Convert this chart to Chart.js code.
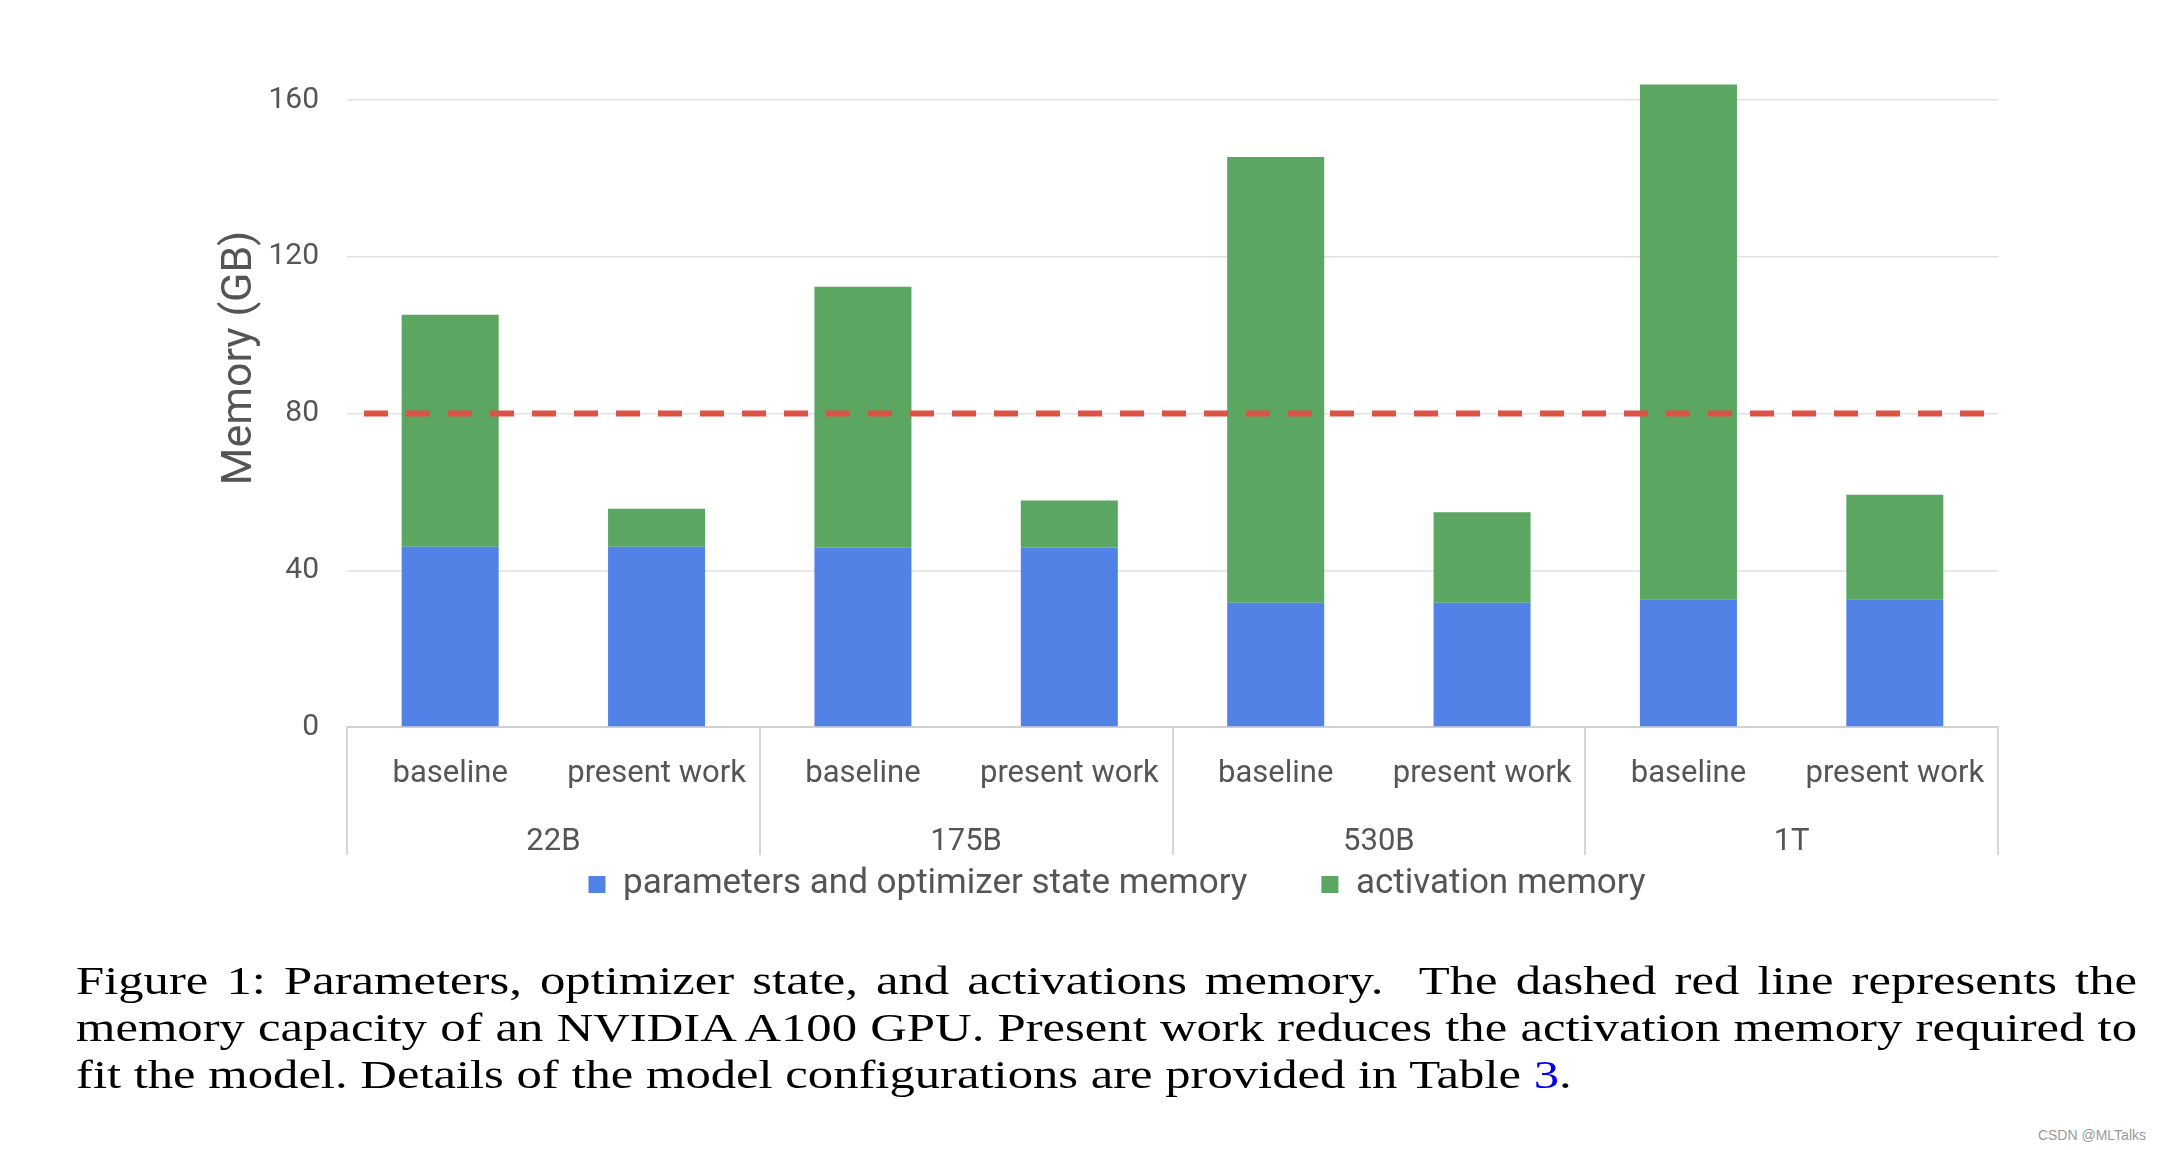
<!DOCTYPE html>
<html>
<head>
<meta charset="utf-8">
<script src="https://cdn.jsdelivr.net/npm/chart.js@4.4.1/dist/chart.umd.min.js"></script>
<style>
  html, body { margin: 0; padding: 0; background: #fff; }
  #wrap { position: relative; width: 2158px; height: 1150px; overflow: hidden; background: #fff; }
  #chartBox { position: absolute; left: 0; top: 0; width: 2158px; height: 986px; }
  .cap {
    position: absolute; left: 76px; width: 2061px;
    font-family: 'Liberation Serif', 'DejaVu Serif', serif;
    font-size: 39px; line-height: 47px; color: #000; white-space: nowrap;
    transform-origin: 0 0;
  }
  .just { text-align: justify; text-align-last: justify; white-space: normal; }
  .ref { color: #0000ee; }
  .mark {
    position: absolute; right: 12px; top: 1127px;
    font-family: 'Liberation Sans', Arial, sans-serif; font-size: 14px; color: #9a9a9a;
  }
</style>
</head>
<body>
<div id="wrap">
  <div id="chartBox"><canvas id="memChart"></canvas></div>
  <div class="cap just" style="top:957px">Figure 1: Parameters, optimizer state, and activations memory.&nbsp; The dashed red line represents the</div>
  <div class="cap just" id="capLine2" style="top:1004px">memory capacity of an NVIDIA A100 GPU. Present work reduces the activation memory required to</div>
  <div class="cap" style="top:1051px">fit the model. Details of the model configurations are provided in Table <span class="ref">3</span>.</div>
  <div class="mark">CSDN @MLTalks</div>
</div>
<script>
// model sizes and the two runs shown for each
const groups = ['22B', '175B', '530B', '1T'];
const runs = ['baseline', 'present work'];
const labels = groups.flatMap(() => runs);

// GB
const paramMemory = [46.0, 46.0, 45.8, 45.8, 31.7, 31.7, 32.6, 32.6];
const activationMemory = [59.2, 9.7, 66.6, 12.0, 113.8, 23.1, 131.4, 26.7];

const yTicks = [0, 40, 80, 120, 160];
const gpuCapacity = 80; // A100 80GB

const textColor = '#555555';
const fontFamily = 'Roboto, "Liberation Sans", Arial, sans-serif';

// caption: the LaTeX font is wider than the serif we have, so stretch the lines sideways
(function fitCaption() {
  const line = document.getElementById('capLine2');
  const probe = document.createElement('span');
  probe.style.cssText = 'position:absolute;visibility:hidden;white-space:nowrap;font:39px "Liberation Serif", serif';
  probe.textContent = line.textContent;
  document.body.appendChild(probe);
  const natural = probe.getBoundingClientRect().width;
  probe.remove();
  const sx = Math.max(1, 2061 / (natural + 6));
  document.querySelectorAll('.cap').forEach(el => {
    el.style.width = (2061 / sx) + 'px';
    el.style.transform = 'scaleX(' + sx.toFixed(4) + ')';
  });
})();

// dashed capacity line + group separators under the axis
const extras = {
  id: 'extras',
  afterLayout(chart) {
    // legend item gap comes from labels.padding, which also pads it vertically; pull it back up
    const lg = chart.legend;
    lg.top -= 74; lg.bottom -= 74;
    lg.left += 11; lg.right += 11;
    // the axis title sits a little above the middle in the original
    chart.scales.y.top -= 72;
  },
  afterDatasetsDraw(chart) {
    const {ctx, chartArea, scales} = chart;
    const y = scales.y.getPixelForValue(gpuCapacity);
    ctx.save();
    ctx.strokeStyle = '#dc5345';
    ctx.lineWidth = 6;
    ctx.setLineDash([24, 18]);
    ctx.beginPath();
    ctx.moveTo(chartArea.left + 17, y);
    ctx.lineTo(chartArea.right - 12, y);
    ctx.stroke();
    ctx.restore();
  },
  afterDraw(chart) {
    const {ctx, chartArea, scales} = chart;
    const xs = scales.x;
    const step = xs.getPixelForTick(1) - xs.getPixelForTick(0);
    ctx.save();
    ctx.strokeStyle = '#d6d6d6';
    ctx.lineWidth = 2;
    for (let i = 0; i <= labels.length; i += runs.length) {
      const px = Math.round(xs.getPixelForTick(0) - step / 2 + i * step);
      ctx.beginPath();
      ctx.moveTo(px, chartArea.bottom);
      ctx.lineTo(px, chartArea.bottom + 128);
      ctx.stroke();
    }
    ctx.restore();
  }
};

const ctx = document.getElementById('memChart');
new Chart(ctx, {
  type: 'bar',
  data: {
    labels: labels,
    datasets: [
      {
        label: 'parameters and optimizer state memory',
        data: paramMemory,
        backgroundColor: '#5282e6',
        categoryPercentage: 1,
        barPercentage: 0.47
      },
      {
        label: 'activation memory',
        data: activationMemory,
        backgroundColor: '#5ba661',
        categoryPercentage: 1,
        barPercentage: 0.47
      }
    ]
  },
  options: {
    responsive: true,
    maintainAspectRatio: false,
    animation: false,
    layout: { padding: { left: 214, right: 160, top: 61, bottom: 0 } },
    plugins: {
      tooltip: { enabled: false },
      legend: {
        position: 'bottom',
        labels: {
          boxWidth: 17,
          boxHeight: 17,
          padding: 74,
          color: textColor,
          font: { family: fontFamily, size: 35 }
        }
      }
    },
    scales: {
      x: {
        stacked: true,
        grid: { display: false },
        border: { color: '#d0d0d0', width: 2 },
        ticks: {
          color: textColor,
          padding: 21,
          maxRotation: 0,
          autoSkip: false,
          font: { family: fontFamily, size: 31 }
        },
        afterFit: (s) => { s.height = 65; }
      },
      x2: {
        type: 'category',
        labels: groups,
        position: 'bottom',
        offset: true,
        grid: { display: false, drawTicks: false },
        border: { display: false },
        ticks: {
          color: textColor,
          padding: 32,
          autoSkip: false,
          maxRotation: 0,
          font: { family: fontFamily, size: 31 }
        },
        afterFit: (s) => { s.height = 75; }
      },
      y: {
        stacked: true,
        min: 0,
        max: 170,
        afterBuildTicks: (axis) => { axis.ticks = yTicks.map(v => ({ value: v })); },
        grid: { color: '#e2e2e2', lineWidth: 1.5, drawTicks: false },
        border: { display: false },
        ticks: {
          color: textColor,
          padding: 28,
          font: { family: fontFamily, size: 30 }
        },
        title: {
          display: true,
          text: 'Memory (GB)',
          color: textColor,
          font: { family: fontFamily, size: 43 },
          padding: { top: 0, bottom: 4 }
        },
        afterFit: (s) => { s.width = 133; }
      }
    }
  },
  plugins: [extras]
});
</script>
</body>
</html>
